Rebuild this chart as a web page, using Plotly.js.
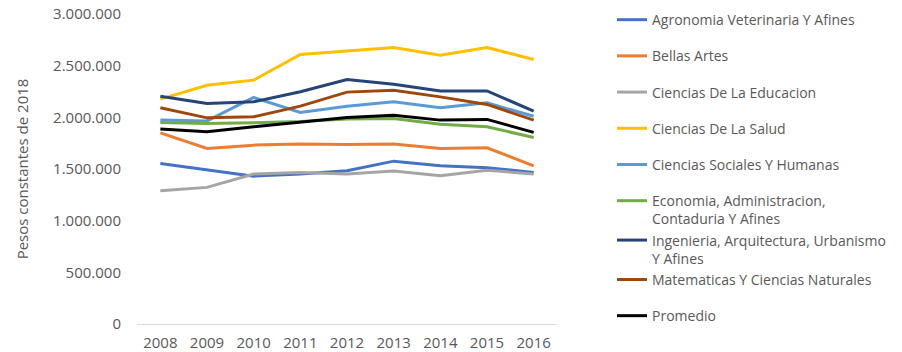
<!DOCTYPE html>
<html>
<head>
<meta charset="utf-8">
<script src="https://cdn.plot.ly/plotly-3.0.1.min.js"></script>
<style>html,body{margin:0;padding:0;background:#fff;}#chart{width:902px;height:352px;}</style>
</head>
<body>
<div id="chart"></div>
<script>
const years = ["2008","2009","2010","2011","2012","2013","2014","2015","2016"];
const seriesNames = [
  "Agronomia Veterinaria Y Afines",
  "Bellas Artes",
  "Ciencias De La Educacion",
  "Ciencias De La Salud",
  "Ciencias Sociales Y Humanas",
  "Economia, Administracion,<br>Contaduria Y Afines",
  "Ingenieria, Arquitectura, Urbanismo<br>Y Afines",
  "Matematicas Y Ciencias Naturales",
  "Promedio"
];
const agronomia   = [1554000,1496000,1431000,1451000,1483000,1576000,1531000,1512000,1467000];
const bellasArtes = [1850000,1699000,1731000,1741000,1738000,1741000,1699000,1705000,1531000];
const educacion   = [1289000,1322000,1451000,1467000,1451000,1480000,1434000,1489000,1451000];
const salud       = [2176000,2311000,2360000,2608000,2643000,2676000,2600000,2676000,2560000];
const sociales    = [1973000,1965000,2192000,2047000,2108000,2150000,2092000,2140000,2010000];
const economia    = [1951000,1941000,1947000,1960000,1983000,1989000,1934000,1908000,1805000];
const ingenieria  = [2205000,2134000,2150000,2247000,2366000,2321000,2256000,2256000,2060000];
const matematicas = [2092000,1995000,2005000,2108000,2244000,2263000,2198000,2125000,1973000];
const promedio    = [1886000,1860000,1908000,1957000,1999000,2021000,1973000,1980000,1854000];

const allValues = [agronomia,bellasArtes,educacion,salud,sociales,economia,ingenieria,matematicas,promedio];
const colors = ["#4472C4","#ED7D31","#A5A5A5","#FFC000","#5B9BD5","#70AD47","#264478","#9E480E","#000000"];
const groups = ["g1","g2","g3","g4","g5","g6","g6","g6","g7"];

const traces = allValues.map((vals,i)=>({
  type:"scatter", mode:"lines", x:years, y:vals, name:seriesNames[i],
  legendgroup:groups[i],
  line:{color:colors[i], width:3},
  hoverinfo:"skip"
}));

const L = 137, R = 557;
const layout = {
  width:902, height:352,
  margin:{l:L, r:902-R, t:14, b:28, autoexpand:false},
  paper_bgcolor:"#ffffff", plot_bgcolor:"#ffffff",
  separators:",.",
  font:{family:"Open Sans, sans-serif", color:"#595959"},
  showlegend:true,
  legend:{
    x:(612-L)/(R-L), xanchor:"left", y:1.032, yanchor:"top",
    traceorder:"grouped", tracegroupgap:15, valign:"top", maxheight:1,
    font:{size:14, color:"#595959", family:"Open Sans, sans-serif"},
    bgcolor:"rgba(0,0,0,0)"
  },
  xaxis:{
    type:"category", range:[-0.5,8.5], showgrid:false, zeroline:false,
    showline:true, linecolor:"#D9D9D9", linewidth:1,
    ticks:"", tickfont:{size:15, color:"#595959"}, ticklabelstandoff:5,
    fixedrange:true
  },
  yaxis:{
    range:[0,3000000], tickvals:[0,500000,1000000,1500000,2000000,2500000,3000000],
    tickformat:",d", showgrid:false, zeroline:false, showline:false,
    ticks:"", tickfont:{size:15, color:"#595959"}, ticklabelstandoff:15,
    title:{text:"Pesos constantes de 2018", font:{size:15, color:"#595959"}, standoff:20},
    fixedrange:true
  }
};

Plotly.newPlot("chart", traces, layout, {displayModeBar:false, staticPlot:true});
</script>
</body>
</html>
